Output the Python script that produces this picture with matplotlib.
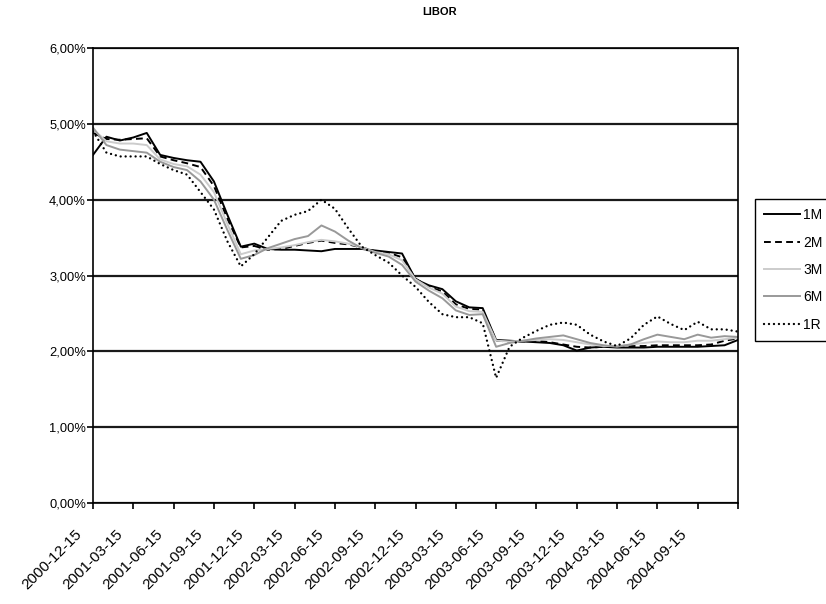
import matplotlib.pyplot as plt
import matplotlib.transforms as mtransforms
import numpy as np
import pandas as pd

plt.rcParams['font.family'] = ['Liberation Sans', 'DejaVu Sans']

# monthly fixings, 15th of each month
dates = pd.date_range('2000-12-01', '2004-12-01', freq='MS') + pd.Timedelta(days=14)

libor_1m = [4.59, 4.83, 4.78, 4.82, 4.88, 4.59, 4.55, 4.52, 4.50, 4.24,
            3.80, 3.38, 3.42, 3.35, 3.34, 3.34, 3.33, 3.32, 3.35, 3.35,
            3.35, 3.33, 3.31, 3.29, 2.95, 2.87, 2.82, 2.66, 2.58, 2.57,
            2.15, 2.14, 2.13, 2.12, 2.11, 2.08, 2.01, 2.05, 2.06, 2.05,
            2.05, 2.05, 2.06, 2.06, 2.06, 2.06, 2.07, 2.08, 2.15]
libor_2m = [4.88, 4.80, 4.79, 4.80, 4.81, 4.57, 4.52, 4.48, 4.43, 4.18,
            3.75, 3.37, 3.39, 3.34, 3.35, 3.39, 3.43, 3.46, 3.43, 3.41,
            3.37, 3.32, 3.30, 3.24, 2.96, 2.85, 2.79, 2.62, 2.56, 2.55,
            2.14, 2.13, 2.13, 2.14, 2.12, 2.09, 2.06, 2.05, 2.06, 2.07,
            2.07, 2.07, 2.08, 2.08, 2.08, 2.08, 2.09, 2.14, 2.17]
libor_3m = [4.93, 4.77, 4.74, 4.74, 4.72, 4.53, 4.47, 4.44, 4.33, 4.10,
            3.68, 3.28, 3.33, 3.35, 3.37, 3.40, 3.44, 3.47, 3.45, 3.42,
            3.37, 3.31, 3.28, 3.20, 2.95, 2.84, 2.76, 2.59, 2.53, 2.52,
            2.14, 2.13, 2.14, 2.15, 2.16, 2.15, 2.12, 2.09, 2.07, 2.07,
            2.09, 2.11, 2.13, 2.12, 2.12, 2.14, 2.14, 2.16, 2.18]
libor_6m = [4.95, 4.72, 4.66, 4.64, 4.62, 4.50, 4.43, 4.39, 4.24, 4.00,
            3.60, 3.22, 3.27, 3.36, 3.42, 3.48, 3.52, 3.66, 3.58, 3.46,
            3.36, 3.30, 3.25, 3.14, 2.92, 2.80, 2.70, 2.54, 2.48, 2.49,
            2.06, 2.11, 2.14, 2.17, 2.19, 2.21, 2.16, 2.11, 2.08, 2.06,
            2.09, 2.16, 2.22, 2.19, 2.16, 2.22, 2.18, 2.20, 2.19]
libor_1r = [4.90, 4.62, 4.57, 4.57, 4.57, 4.47, 4.39, 4.33, 4.10, 3.87,
            3.45, 3.12, 3.28, 3.50, 3.72, 3.80, 3.85, 4.00, 3.88, 3.62,
            3.38, 3.27, 3.17, 3.00, 2.85, 2.65, 2.49, 2.45, 2.45, 2.37,
            1.65, 2.06, 2.18, 2.27, 2.35, 2.38, 2.35, 2.22, 2.13, 2.07,
            2.17, 2.35, 2.46, 2.36, 2.28, 2.39, 2.29, 2.29, 2.26]

fig = plt.figure(figsize=(8.26, 6.04), dpi=100)
ax = fig.add_axes([93 / 826, 1 - 503 / 604, 645 / 826, 455 / 604])

x = np.arange(len(dates))
ax.plot(x, libor_1m, color='black', lw=1.4, label='1M')
ax.plot(x, libor_2m, color='black', lw=1.4, ls=(0, (3.5, 2.2)), label='2M')
ax.plot(x, libor_3m, color='#cccccc', lw=1.4, label='3M')
ax.plot(x, libor_6m, color='#999999', lw=1.4, label='6M')
ax.plot(x, libor_1r, color='black', lw=1.7, ls=(0, (0.01, 2.1)),
        dash_capstyle='round', label='1R')

ax.set_xlim(0, len(dates) - 1)
ax.set_ylim(0, 6)
ax.set_yticks(np.arange(0, 7, 1))
ax.set_yticklabels([f'{v:.2f}%'.replace('.', ',') for v in np.arange(0, 7, 1)])
ax.yaxis.grid(True, color='#1a1a1a', lw=1.6)
ax.set_axisbelow(True)

# quarterly ticks; the date labels are drawn as rotated texts below the axis
tick_pos = np.arange(0, len(dates), 3)
ax.set_xticks(tick_pos)
ax.set_xticklabels([])
lab_trans = mtransforms.offset_copy(
    mtransforms.blended_transform_factory(ax.transData, ax.transAxes),
    fig=fig, x=-18, y=-24, units='dots')
for p in tick_pos[:-1]:
    ax.text(p, 0, dates[p].strftime('%Y-%m-%d'), transform=lab_trans,
            rotation=45, ha='right', va='top', rotation_mode='anchor',
            fontsize=11, clip_on=False)

ax.tick_params(axis='y', labelsize=9.3, length=4, width=1.2, pad=1)
ax.tick_params(axis='x', length=4, width=1.2)
for s in ax.spines.values():
    s.set_color('black')
    s.set_linewidth(1.2)

fig.text(440 / 826, 1 - 12 / 604, 'LIBOR', ha='center', va='center',
         fontsize=8, fontweight='bold')

leg = fig.legend(loc='upper left', bbox_to_anchor=(755 / 826, 1 - 199 / 604),
                 fontsize=10, handlelength=2.6, handletextpad=0.2,
                 labelspacing=0.96, borderpad=0.67, borderaxespad=0,
                 fancybox=False, framealpha=1)
leg.get_frame().set_edgecolor('black')
leg.get_frame().set_linewidth(1.0)

fig.savefig('out.png', dpi=100)
